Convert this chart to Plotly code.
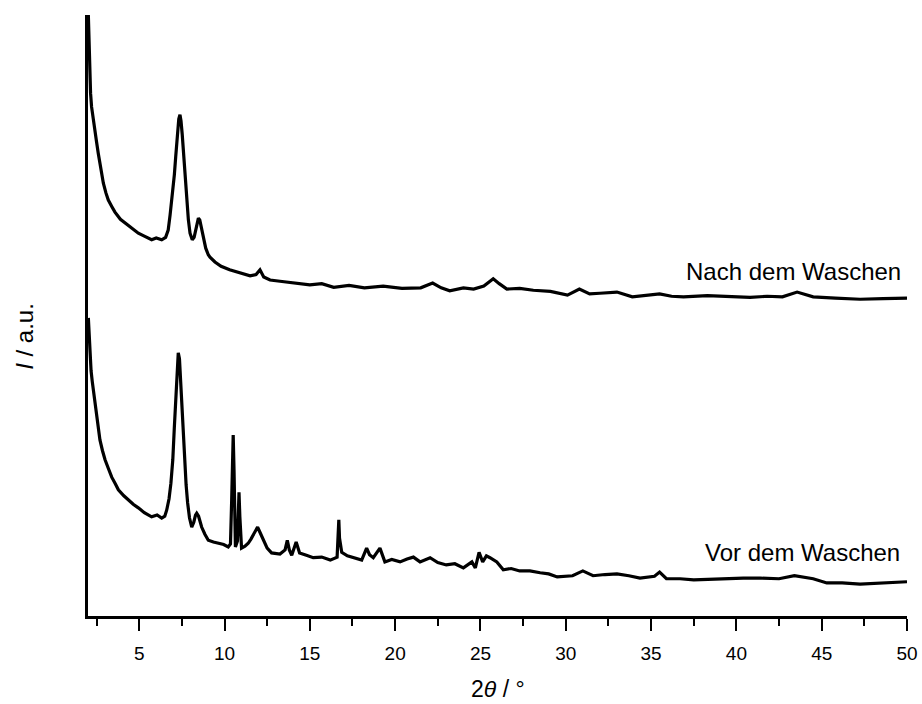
import plotly.graph_objects as go

# Upper pattern: "Nach dem Waschen" (values in a.u.)
two_theta_nach = [2.02, 2.06, 2.1, 2.15, 2.21, 2.3, 2.41, 2.5, 2.6, 2.75, 2.9, 3.05, 3.19, 3.4,
                  3.58, 3.9, 4.17, 4.5, 4.95, 5.3, 5.73, 6.0, 6.32, 6.55, 6.7, 6.81, 6.94,
                  7.06, 7.14, 7.25, 7.32, 7.39, 7.45, 7.52, 7.59, 7.68, 7.78, 7.88, 7.98,
                  8.11, 8.22, 8.3, 8.4, 8.47, 8.55, 8.65, 8.76, 8.9, 9.05, 9.15, 9.44,
                  9.8, 10.3, 10.9, 11.5, 11.85, 12.08, 12.3, 12.67, 13.25, 14.03, 15.0,
                  15.7, 16.4, 17.3, 18.2, 19.3, 20.4, 21.5, 22.2, 22.7, 23.2, 24.0, 24.6,
                  25.2, 25.75, 26.1, 26.55, 27.3, 28.1, 29.1, 30.1, 30.8, 31.4, 32.0, 33.0,
                  33.9, 34.7, 35.5, 36.2, 36.9, 38.3, 39.8, 40.8, 41.8, 42.7, 43.56, 44.5,
                  45.8, 47.25, 48.6, 50.0]
intensity_nach = [100.0, 95.5, 90.0, 87.0, 84.7, 82.6, 80.9, 78.9, 77.0, 74.3, 72.0, 70.4, 69.2, 68.1,
                  67.2, 66.0, 65.4, 64.6, 63.7, 63.2, 62.6, 62.9, 62.6, 63.0, 64.2, 66.7, 69.7,
                  73.4, 76.4, 80.9, 82.7, 83.4, 82.4, 80.2, 77.5, 73.2, 69.7, 66.0, 63.7,
                  62.6, 63.0, 63.9, 65.5, 66.2, 65.9, 64.4, 62.6, 61.2, 60.1, 59.7, 58.9,
                  58.2, 57.6, 57.1, 56.6, 56.8, 57.6, 56.4, 55.9, 55.7, 55.4, 55.1,
                  55.3, 54.7, 55.0, 54.6, 54.9, 54.5, 54.6, 55.4, 54.6, 54.1, 54.6, 54.4,
                  54.9, 56.1, 55.3, 54.4, 54.5, 54.2, 54.0, 53.4, 54.4, 53.6, 53.7, 53.9,
                  53.1, 53.4, 53.6, 53.2, 53.1, 53.3, 53.1, 53.0, 53.2, 53.1, 53.9, 53.1,
                  52.9, 52.7, 52.8, 52.9]

# Lower pattern: "Vor dem Waschen"
two_theta_vor = [2.02, 2.07, 2.12, 2.18, 2.25, 2.33, 2.41, 2.55, 2.7, 2.85, 3.0, 3.2, 3.39, 3.6,
                 3.78, 4.1, 4.36, 4.65, 4.95, 5.3, 5.73, 6.05, 6.32, 6.5, 6.61, 6.75, 6.86,
                 6.97, 7.06, 7.15, 7.22, 7.29, 7.36, 7.42, 7.49, 7.57, 7.65, 7.75, 7.84,
                 7.95, 8.08, 8.2, 8.3, 8.37, 8.48, 8.66, 8.85, 9.05, 9.35, 9.64, 9.95,
                 10.22, 10.35, 10.42, 10.47, 10.51, 10.56, 10.64, 10.76, 10.81, 10.85,
                 10.9, 11.0, 11.2, 11.39, 11.55, 11.7, 11.85, 11.94, 12.05, 12.27, 12.5,
                 12.76, 13.25, 13.55, 13.68, 13.8, 13.94, 14.2, 14.4, 14.8, 15.2, 15.7,
                 16.2, 16.6, 16.67, 16.7, 16.74, 16.87, 17.2, 17.55, 18.04, 18.33, 18.5,
                 18.72, 19.11, 19.4, 19.8, 20.29, 20.7, 21.07, 21.46, 22.05, 22.5, 23.0,
                 23.5, 24.0, 24.5, 24.7, 24.92, 25.13, 25.35, 25.56, 25.96, 26.34, 26.8,
                 27.3, 27.9, 28.5, 29.0, 29.5, 30.4, 31.0, 31.6, 32.3, 33.0, 33.7, 34.35,
                 35.2, 35.5, 35.9, 36.7, 37.5, 38.4, 39.4, 40.4, 41.4, 42.5, 43.4, 44.5,
                 45.3, 46.2, 47.25, 48.2, 49.2, 50.0]
intensity_vor = [49.6, 46.0, 42.6, 40.8, 39.0, 37.4, 35.9, 32.5, 29.3, 27.5, 26.0, 24.5, 23.1, 22.0,
                 21.0, 20.0, 19.3, 18.6, 18.0, 17.2, 16.5, 16.8, 16.3, 16.6, 17.6, 19.5, 22.1,
                 26.0, 31.4, 37.0, 41.5, 43.8, 42.8, 39.8, 35.9, 30.5, 26.0, 21.8, 18.8,
                 16.3, 14.8, 15.6, 16.8, 17.1, 16.6, 14.8, 13.6, 12.6, 12.3, 12.1, 11.9,
                 11.5, 12.0, 19.3, 27.0, 30.1, 24.0, 11.5, 12.5, 17.5, 20.6,
                 16.5, 11.3, 11.6, 12.1, 12.8, 13.6, 14.6, 14.8, 14.1, 12.6, 11.3,
                 10.5, 10.3, 11.0, 12.6, 11.0, 10.1, 12.3, 10.5, 10.1, 9.7, 9.8,
                 9.3, 9.8, 13.5, 16.0, 13.0, 10.6, 10.0, 9.7, 9.3, 11.3, 10.2,
                 9.7, 11.3, 9.0, 9.4, 9.0, 9.5, 9.8, 9.0, 9.7, 8.9, 8.5,
                 8.7, 8.0, 9.0, 8.0, 10.6, 9.0, 10.0, 9.7, 9.0, 7.7, 7.9,
                 7.5, 7.5, 7.2, 7.0, 6.5, 6.7, 7.5, 6.7, 6.9, 7.0, 6.7, 6.3,
                 6.6, 7.3, 6.2, 6.2, 6.0, 6.1, 6.2, 6.3, 6.3, 6.2, 6.7, 6.2,
                 5.5, 5.5, 5.3, 5.4, 5.5, 5.7]

x_ticks = [5, 10, 15, 20, 25, 30, 35, 40, 45, 50]
minor_ticks = [2.5, 7.5, 12.5, 17.5, 22.5, 27.5, 32.5, 37.5, 42.5, 47.5]
series_labels = ["Nach dem Waschen", "Vor dem Waschen"]

FONT = "Liberation Sans, Arial, sans-serif"

fig = go.Figure()
fig.add_trace(go.Scatter(x=two_theta_nach, y=intensity_nach, mode="lines",
                         line=dict(color="black", width=3.2), name=series_labels[0],
                         showlegend=False, hoverinfo="skip"))
fig.add_trace(go.Scatter(x=two_theta_vor, y=intensity_vor, mode="lines",
                         line=dict(color="black", width=3.2), name=series_labels[1],
                         showlegend=False, hoverinfo="skip"))

fig.add_annotation(x=49.75, y=57.4, xref="x", yref="y", text=series_labels[0],
                   showarrow=False, xanchor="right", yanchor="middle",
                   font=dict(family=FONT, size=24, color="black"))
fig.add_annotation(x=49.7, y=10.5, xref="x", yref="y", text=series_labels[1],
                   showarrow=False, xanchor="right", yanchor="middle",
                   font=dict(family=FONT, size=24, color="black"))
fig.add_annotation(x=-0.077, y=0.466, xref="paper", yref="paper",
                   text="<i>I</i> / a.u.", textangle=-90, showarrow=False,
                   xanchor="center", yanchor="middle",
                   font=dict(family=FONT, size=24, color="black"))
fig.add_annotation(x=0.5, y=-0.1215, xref="paper", yref="paper",
                   text="2<i>θ</i> / °", showarrow=False,
                   xanchor="center", yanchor="middle",
                   font=dict(family=FONT, size=23, color="black"))

fig.update_layout(
    width=922, height=704,
    margin=dict(l=88, r=15, t=15, b=88),
    paper_bgcolor="white", plot_bgcolor="white",
    font=dict(family=FONT, color="black"),
    xaxis=dict(range=[2, 50], tickvals=x_ticks, showline=True, linecolor="black",
               linewidth=2.5, ticks="outside", tickwidth=2, ticklen=12,
               tickcolor="black", showgrid=False, zeroline=False, automargin=False,
               ticklabelstandoff=6,
               tickfont=dict(family=FONT, size=19, color="black"),
               minor=dict(tickvals=minor_ticks, ticks="outside", ticklen=7,
                          tickwidth=2, tickcolor="black")),
    yaxis=dict(range=[0, 100], showline=True, linecolor="black", linewidth=2.5,
               showticklabels=False, ticks="", showgrid=False, zeroline=False,
               automargin=False),
)

fig.write_html("out.html", config={"displayModeBar": False},
               post_script="document.body.style.margin='0';")
